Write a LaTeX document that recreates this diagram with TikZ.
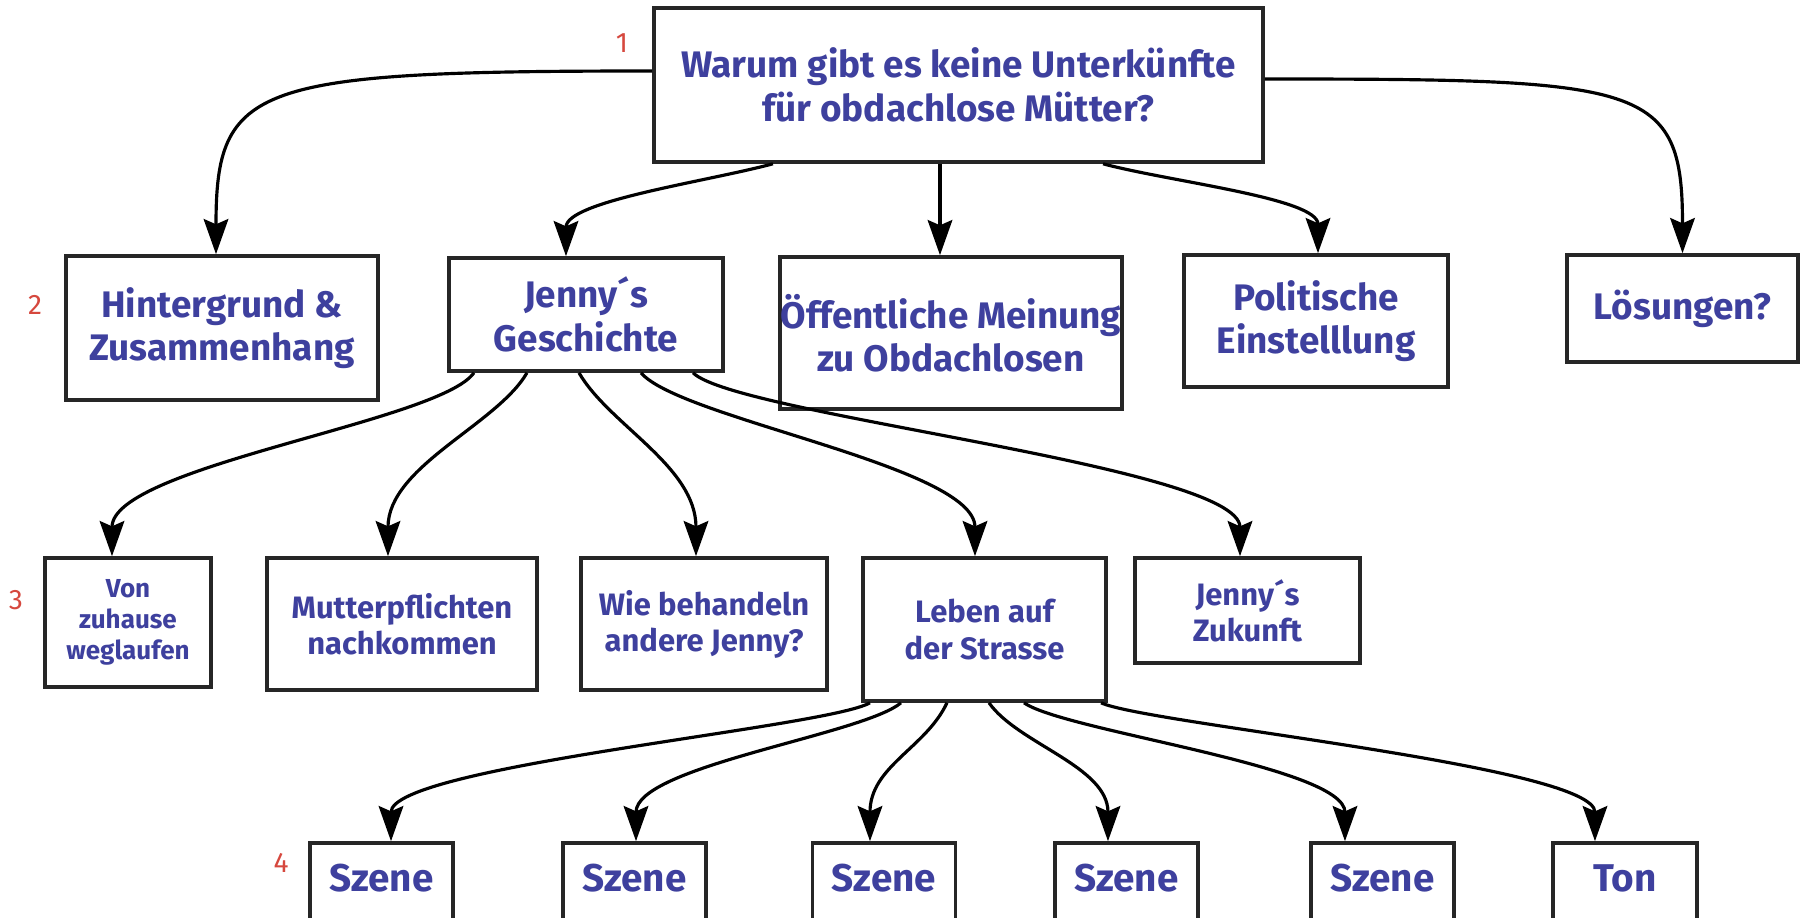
\documentclass[tikz,border=0pt]{standalone}
\usepackage{fontspec}
\setmainfont{Fira Sans}
\usetikzlibrary{arrows.meta}

\definecolor{txtblue}{RGB}{62,64,158}
\definecolor{numred}{RGB}{214,72,62}

\begin{document}
\begin{tikzpicture}[x=0.01cm,y=0.01cm,
  box/.style={draw=black!85,line width=1pt,fill=white,align=center,text=txtblue,inner sep=0pt},
  qbox/.style={box,font=\fontsize{10.5}{12.5}\selectfont\bfseries},
  topicbox/.style={box,font=\fontsize{10.5}{12.3}\selectfont\bfseries},
  subbox/.style={box,font=\fontsize{8.8}{10.3}\selectfont\bfseries},
  scenebox/.style={box,font=\fontsize{11}{13}\selectfont\bfseries,minimum width=1.43cm,minimum height=1cm,text depth=0.3cm},
  link/.style={line width=0.9pt,-{Stealth[length=10pt,width=7pt,inset=1.5pt]}},
  levelnum/.style={text=numred,font=\fontsize{8}{8}\selectfont}]

% white background, cut at the lower edge
\useasboundingbox (0,0) rectangle (1805,-918);
\clip (0,0) rectangle (1805,-918);
\fill[white] (0,0) rectangle (1805,-918);

% level 1
\node[qbox,minimum width=6.09cm,minimum height=1.54cm] (q) at (958.5,-85) {Warum gibt es keine Unterkünfte\\für obdachlose Mütter?};

% level 2
\node[topicbox,minimum width=3.12cm,minimum height=1.44cm] (bg) at (222,-328) {Hintergrund \&\\Zusammenhang};
\node[topicbox,minimum width=2.74cm,minimum height=1.13cm] (jg) at (586,-314.5) {Jenny´s\\Geschichte};
\node[topicbox,minimum width=3.42cm,minimum height=1.52cm] (om) at (951,-333) {Öffentliche Meinung\\zu Obdachlosen};
\node[topicbox,minimum width=2.64cm,minimum height=1.32cm] (pe) at (1316,-321) {Politische\\Einstelllung};
\node[topicbox,minimum width=2.31cm,minimum height=1.07cm] (lo) at (1682.5,-308.5) {Lösungen?};

% level 3
\node[subbox,font=\fontsize{7.4}{8.8}\selectfont\bfseries,minimum width=1.66cm,minimum height=1.29cm] (vz) at (128,-622.5) {Von\\zuhause\\weglaufen};
\node[subbox,minimum width=2.70cm,minimum height=1.32cm] (mp) at (402,-624) {Mutterpflichten\\nachkommen};
\node[subbox,minimum width=2.46cm,minimum height=1.32cm] (wb) at (704,-624) {Wie behandeln\\andere Jenny?};
\node[subbox,minimum width=2.43cm,minimum height=1.43cm] (ls) at (984.5,-629.5) {Leben auf\\der Strasse};
\node[subbox,minimum width=2.25cm,minimum height=1.05cm] (jz) at (1247.5,-610.5) {Jenny´s\\Zukunft};

% level 4
\node[scenebox] (s1) at (381.5,-893) {Szene};
\node[scenebox] (s2) at (634.5,-893) {Szene};
\node[scenebox] (s3) at (884,-893) {Szene};
\node[scenebox] (s4) at (1126.5,-893) {Szene};
\node[scenebox] (s5) at (1382.5,-893) {Szene};
\node[scenebox,minimum width=1.44cm] (ton) at (1625,-893) {Ton};

% level numbers
\node[levelnum] (n1) at (622,-43) {1};
\node[levelnum] (n2) at (35,-305) {2};
\node[levelnum] (n3) at (16,-600) {3};
\node[levelnum] (n4) at (281,-863) {4};

% links from the question
\draw[link] ([yshift=0.14cm]q.west) .. controls +(180:400) and +(0,170) .. ([xshift=-0.06cm]bg.north);
\draw[link] ([xshift=-1.855cm]q.south) .. controls +(-165:70) and +(0,55) .. ([xshift=-0.2cm]jg.north);
\draw[link] ([xshift=-0.11cm]om.north |- q.south) -- ([xshift=-0.11cm]om.north);
\draw[link] ([xshift=1.445cm]q.south) .. controls +(-15:70) and +(0,55) .. ([xshift=0.02cm]pe.north);
\draw[link] ([yshift=0.06cm]q.east) .. controls +(0:380) and +(0,170) .. (lo.north);

% links from Jenny's story
\draw[link] ([xshift=-1.12cm]jg.south) .. controls +(-125:60) and +(0,90) .. ([xshift=-0.16cm]vz.north);
\draw[link] ([xshift=-0.59cm]jg.south) .. controls +(-120:60) and +(0,90) .. ([xshift=-0.14cm]mp.north);
\draw[link] ([xshift=-0.07cm]jg.south) .. controls +(-60:60) and +(0,90) .. ([xshift=-0.08cm]wb.north);
\draw[link] ([xshift=0.55cm]jg.south) .. controls +(-50:60) and +(0,90) .. ([xshift=-0.095cm]ls.north);
\draw[link] ([xshift=1.07cm]jg.south) .. controls +(-45:60) and +(0,90) .. ([xshift=-0.075cm]jz.north);

% links from life on the street
\draw[link] ([xshift=-1.145cm]ls.south) .. controls +(-150:50) and +(0,75) .. ([xshift=0.095cm]s1.north);
\draw[link] ([xshift=-0.835cm]ls.south) .. controls +(-140:50) and +(0,75) .. ([xshift=0.015cm]s2.north);
\draw[link] ([xshift=-0.375cm]ls.south) .. controls +(-115:50) and +(0,75) .. ([xshift=-0.14cm]s3.north);
\draw[link] ([xshift=0.045cm]ls.south) .. controls +(-55:50) and +(0,75) .. ([xshift=-0.185cm]s4.north);
\draw[link] ([xshift=0.395cm]ls.south) .. controls +(-35:50) and +(0,75) .. ([xshift=-0.375cm]s5.north);
\draw[link] ([xshift=1.165cm]ls.south) .. controls +(-25:50) and +(0,75) .. ([xshift=-0.3cm]ton.north);

\end{tikzpicture}
\end{document}
